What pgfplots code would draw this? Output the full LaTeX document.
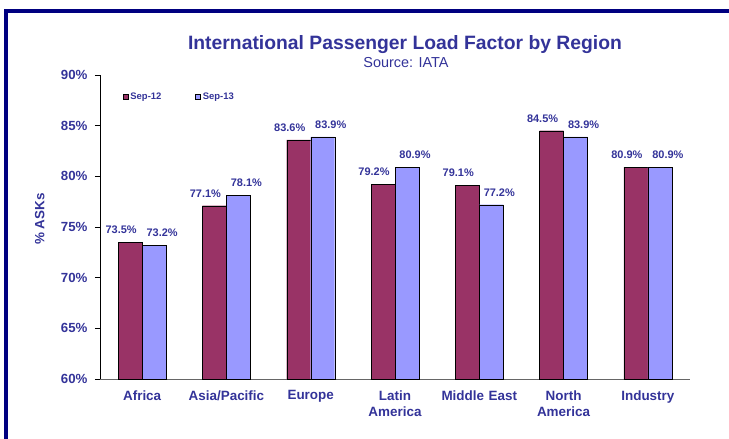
\documentclass[border=0pt]{standalone}
\usepackage{pgfplots}
\pgfplotsset{compat=1.18}
\usepackage{fontspec}
\setmainfont{Liberation Sans}
\definecolor{navytext}{HTML}{333399}
\definecolor{frame}{HTML}{000080}
\definecolor{seponecol}{HTML}{993366}
\definecolor{septwocol}{HTML}{9999FF}
\begin{document}
\begin{tikzpicture}
\path[use as bounding box] (0,0) rectangle (729bp,439bp);
\fill[frame] (4bp,0) rectangle (8bp,430bp);
\fill[frame] (4bp,426bp) rectangle (729bp,430bp);
\node[text=navytext,font=\fontsize{19.4}{22}\selectfont\bfseries] at (405bp,394bp) {International Passenger Load Factor by Region};
\node[text=navytext,font=\fontsize{14.5}{16}\selectfont] at (406bp,376bp) {Source: IATA};
\begin{axis}[
  at={(100bp,60bp)}, anchor=south west,
  scale only axis, width=590bp, height=304bp,
  ybar=0pt, bar width=24bp,
  xmin=-0.5, xmax=6.5, ymin=60, ymax=90,
  axis x line*=bottom, axis y line*=left,
  x axis line style={gray!80!black, -},
  y axis line style={black, -},
  xtick={0,1,2,3,4,5,6},
  xticklabels={Africa, Asia/Pacific, Europe, {Latin\\America}, Middle East, {North\\America}, Industry},
  x tick label style={align=center, text width=84bp, font=\fontsize{13.5}{16}\selectfont\bfseries, text=navytext, yshift=-3bp},
  major x tick style={draw=none},
  extra x ticks={-0.5,0.5,1.5,2.5,3.5,4.5,5.5,6.5},
  extra x tick labels={},
  extra x tick style={tick style={black, thin}, major tick length=5bp, tick align=outside},
  ytick={60,65,70,75,80,85,90},
  yticklabels={60\%,65\%,70\%,75\%,80\%,85\%,90\%},
  y tick label style={font=\fontsize{13.3}{15}\selectfont\bfseries, text=navytext, xshift=-4bp},
  ytick style={black, thin}, tick align=outside, major tick length=5bp,
  ylabel={\% ASKs},
  ylabel style={at={(axis description cs:-0.102,0.526)}, anchor=center, font=\fontsize{13.5}{15}\selectfont\bfseries, text=navytext},
  /pgf/number format/assume math mode=true,
  nodes near coords={\pgfmathprintnumber[fixed,fixed zerofill,precision=1]{\pgfplotspointmeta}\%},
  every node near coord/.append style={font=\fontsize{11}{13}\selectfont\bfseries, text=navytext, yshift=5bp},
  legend style={at={(rel axis cs:0.037,0.928)}, anchor=west, draw=none, fill=white, font=\fontsize{9.5}{11}\selectfont\bfseries, text=navytext, inner sep=1bp, legend columns=2,
    /tikz/every even column/.append style={column sep=32bp}},
  legend image code/.code={\draw[#1, draw=black, thin] (0bp,-2.5bp) rectangle (5bp,2.5bp);},
  clip=false,
]
\addplot[fill=seponecol, draw=black, thin, every node near coord/.append style={xshift=-9bp}] coordinates {(0,73.5) (1,77.1) (2,83.6) (3,79.2) (4,79.1) (5,84.5) (6,80.9)};
\addplot[fill=septwocol, draw=black, thin, every node near coord/.append style={xshift=8bp}] coordinates {(0,73.2) (1,78.1) (2,83.9) (3,80.9) (4,77.2) (5,83.9) (6,80.9)};
\legend{Sep-12, Sep-13}
\end{axis}
\end{tikzpicture}
\end{document}
